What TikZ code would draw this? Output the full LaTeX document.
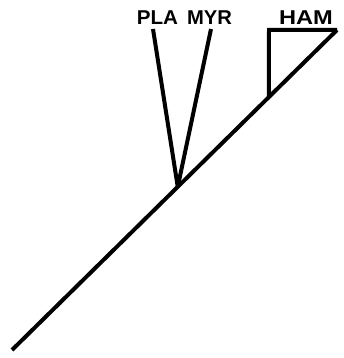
\documentclass[tikz,border=0pt]{standalone}
\usepackage{fontspec}
\setmainfont{Liberation Sans}
\usetikzlibrary{calc}
\begin{document}
\begin{tikzpicture}[x=1pt,y=-1pt,
  branch/.style={line width=4pt, line join=miter},
  lbl/.style={font=\bfseries\fontsize{20}{20}\selectfont, inner sep=0pt, anchor=base}]
\useasboundingbox (0,0) rectangle (343,358);
\coordinate (root) at (12,350);
\coordinate (tip) at (337,30);
\coordinate (jA) at ($(root)!0.51!(tip)$);
\coordinate (jB) at ($(root)!0.79!(tip)$);
\coordinate (pla) at (153,29);
\coordinate (myr) at (211,29);
\coordinate (hamc) at (269,30);
\draw[branch] (jB) -- (hamc) -- (tip);
\draw[branch] (root) -- (tip);
\draw[branch] (pla) -- (jA);
\draw[branch] (myr) -- (jA);
\node[lbl] (plaL) at (157.5,25) {\scalebox{1.03}[1]{PLA}};
\node[lbl] (myrL) at (209.5,25) {\scalebox{1.01}[1]{MYR}};
\node[lbl] (hamL) at (306,25) {\scalebox{1.18}[1]{HAM}};
\end{tikzpicture}
\end{document}
